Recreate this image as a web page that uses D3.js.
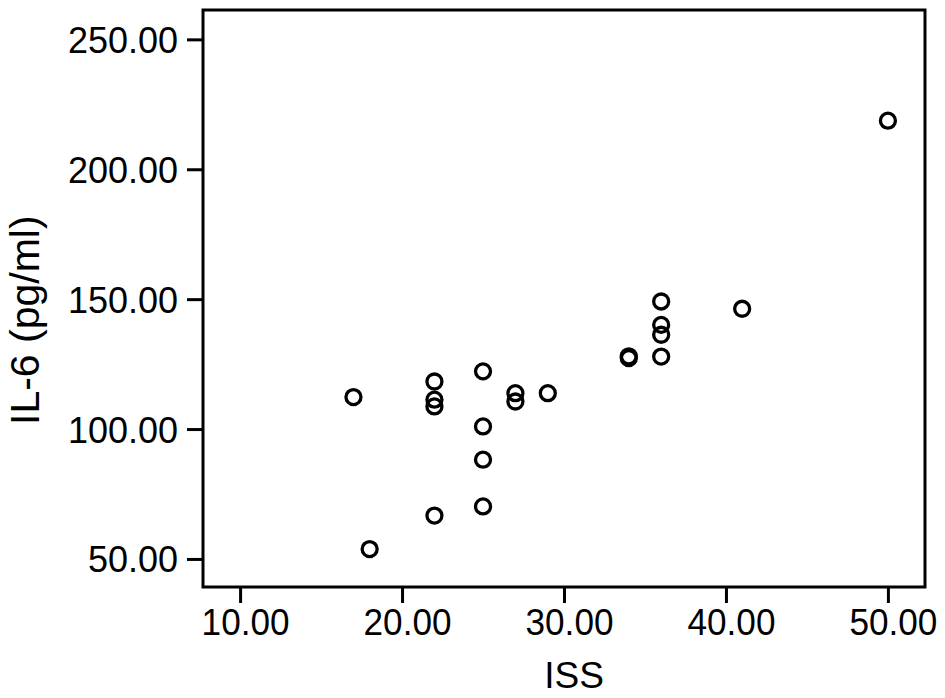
<!DOCTYPE html>
<html>
<head>
<meta charset="utf-8">
<script src="https://cdn.jsdelivr.net/npm/d3@7"></script>
<style>
  html, body { margin: 0; padding: 0; background: #fff; }
  svg { display: block; }
  text { font-family: "Liberation Sans", Arial, sans-serif; fill: #000; }
</style>
</head>
<body>
<svg id="chart" width="945" height="698"></svg>
<script>
const issValues = [17, 18, 22, 22, 22, 22, 25, 25, 25, 25, 27, 27, 29, 34, 34, 36, 36, 36, 36, 41, 50];
const il6Values = [112.3, 53.8, 118.3, 111.3, 108.7, 66.7, 122.2, 101.0, 88.2, 70.2, 113.8, 110.6, 113.8, 127.3, 128.0, 149.1, 140.1, 136.3, 127.9, 146.3, 218.7];
const xTicks = [10, 20, 30, 40, 50];
const yTicks = [50, 100, 150, 200, 250];
const xTitle = "ISS";
const yTitle = "IL-6 (pg/ml)";

const svg = d3.select("#chart");
const L = 203, R = 925, T = 10, B = 587;

const x = d3.scaleLinear().domain([7.71, 52.29]).range([L, R]);
const y = d3.scaleLinear().domain([39.2, 261.3]).range([B, T]);

// Frame
svg.append("rect")
  .attr("x", L).attr("y", T).attr("width", R - L).attr("height", B - T)
  .attr("fill", "none").attr("stroke", "#000").attr("stroke-width", 3);

// X axis
const xAxis = svg.append("g").attr("transform", `translate(0,${B})`)
  .call(d3.axisBottom(x).tickValues(xTicks).tickSize(16).tickPadding(6)
    .tickFormat(d3.format(".2f")));
xAxis.select(".domain").remove();
xAxis.selectAll(".tick line").attr("stroke", "#000").attr("stroke-width", 3);
xAxis.selectAll(".tick text").attr("font-size", 37).attr("dx", 5)
  .attr("textLength", 88).attr("lengthAdjust", "spacingAndGlyphs")
  .style("font-family", '"Liberation Sans", Arial, sans-serif');

// Y axis
const yAxis = svg.append("g").attr("transform", `translate(${L},0)`)
  .call(d3.axisLeft(y).tickValues(yTicks).tickSize(16).tickPadding(9)
    .tickFormat(d3.format(".2f")));
yAxis.select(".domain").remove();
yAxis.selectAll(".tick line").attr("stroke", "#000").attr("stroke-width", 3);
yAxis.selectAll(".tick text").attr("font-size", 36).attr("dy", "0.36em")
  .style("font-family", '"Liberation Sans", Arial, sans-serif');

// Titles
svg.append("text").attr("x", 574).attr("y", 688)
  .attr("text-anchor", "middle").attr("font-size", 37).text(xTitle);
svg.append("text")
  .attr("transform", "translate(39,425) rotate(-90)")
  .attr("text-anchor", "start").attr("font-size", 41).text(yTitle);

// Points
const data = issValues.map((v, i) => ({ iss: v, il6: il6Values[i] }));
svg.append("g").selectAll("circle").data(data).join("circle")
  .attr("cx", d => x(d.iss)).attr("cy", d => y(d.il6))
  .attr("r", 7.5).attr("fill", "none").attr("stroke", "#000").attr("stroke-width", 3.3);
</script>
</body>
</html>
